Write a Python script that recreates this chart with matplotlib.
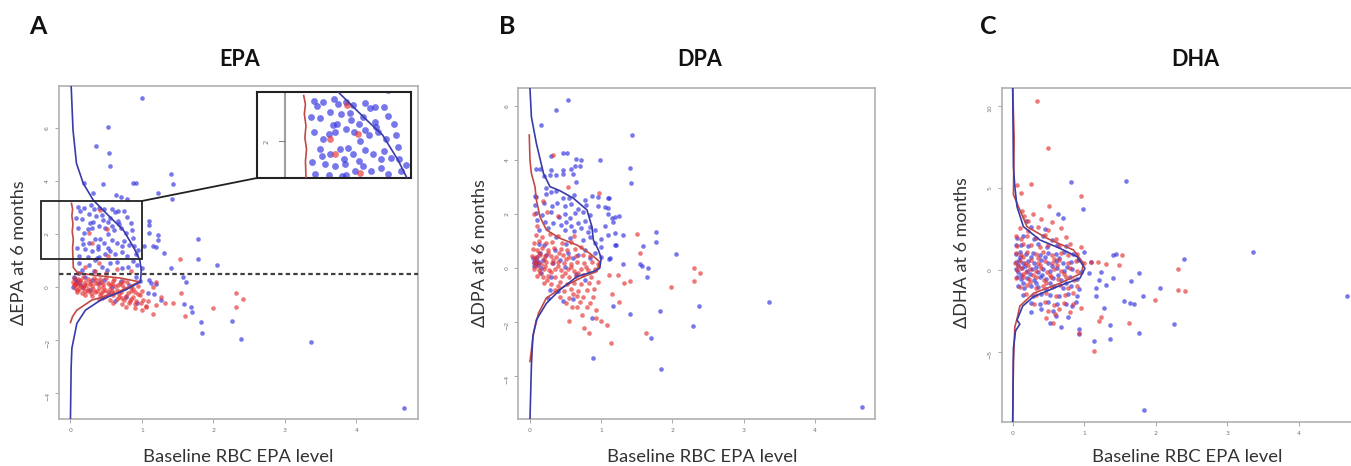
import matplotlib
matplotlib.use("Agg")
import matplotlib.pyplot as plt
from matplotlib.patches import Rectangle, ConnectionPatch

# ---------------- data ----------------
# scatter points: (baseline RBC EPA level, change at 6 months)
epa_blue = [
    (1.0, 7.15), (0.53, 6.06), (0.36, 5.33), (0.54, 5.06), (0.55, 4.59), (1.4, 4.28), (1.43, 3.9),
    (0.88, 3.94), (0.92, 3.94), (0.46, 3.9), (0.19, 3.94), (0.31, 3.57), (1.42, 3.33), (1.22, 3.55),
    (0.64, 3.48), (0.71, 3.42), (0.79, 3.32), (1.1, 2.51), (1.1, 2.36), (1.22, 1.97), (1.22, 1.79),
    (1.15, 1.56), (1.78, 1.81), (1.31, 1.31), (1.78, 1.07), (1.4, 0.74), (2.05, 0.84), (1.03, 1.56),
    (1.1, 2.06), (1.19, 1.53), (1.57, 0.4), (1.62, 0.21), (1.1, 0.27), (1.13, 0.16), (1.59, -0.63),
    (1.68, -0.73), (1.7, -0.92), (1.82, -1.3), (1.84, -1.74), (2.26, -1.27), (2.38, -1.96),
    (3.36, -2.08), (4.67, -4.54), (1.27, -0.46),
    (0.11, 3.04), (0.19, 3.0), (0.29, 3.09), (0.4, 3.0), (0.47, 2.94), (0.58, 2.97), (0.67, 2.88),
    (0.75, 2.88), (0.08, 2.63), (0.16, 2.59), (0.26, 2.75), (0.36, 2.69), (0.44, 2.72), (0.56, 2.63),
    (0.67, 2.5), (0.79, 2.66), (0.84, 2.44), (0.11, 2.25), (0.28, 2.42), (0.3, 2.25), (0.4, 2.31),
    (0.48, 2.25), (0.53, 2.0), (0.61, 2.16), (0.68, 2.38), (0.77, 2.06), (0.86, 2.16), (0.19, 2.06),
    (0.16, 1.81), (0.26, 1.68), (0.35, 1.81), (0.42, 1.83), (0.47, 1.68), (0.58, 1.78), (0.65, 1.68),
    (0.75, 1.75), (0.82, 1.58), (0.89, 1.56), (0.09, 1.49), (0.21, 1.43), (0.3, 1.37), (0.39, 1.43),
    (0.49, 1.25), (0.56, 1.37), (0.63, 1.25), (0.72, 1.33), (0.79, 1.18), (0.91, 1.25), (0.12, 1.18),
    (0.25, 1.15), (0.37, 1.12), (0.33, 2.95), (0.52, 2.45), (0.62, 2.85), (0.45, 2.55), (0.25, 2.2),
    (0.7, 2.25), (0.58, 2.3), (0.88, 1.85), (0.95, 1.4), (0.14, 2.9), (0.38, 1.55), (0.72, 1.55),
    (0.18, 1.62), (0.52, 1.5), (0.32, 2.45),
    (0.12, 0.93), (0.26, 0.84), (0.35, 1.03), (0.44, 0.78), (0.56, 0.9), (0.72, 0.72), (0.8, 0.75),
    (0.93, 0.84), (1.0, 0.72), (0.16, 0.65), (0.33, 0.63), (0.51, 0.65), (0.4, 1.15), (0.65, 0.95),
    (0.88, 1.0),
    (0.05, 0.4), (0.09, 0.23), (0.21, 0.4), (0.3, 0.27), (0.4, 0.15), (0.47, 0.27), (0.58, 0.02),
    (0.7, 0.23), (0.82, 0.1), (0.91, 0.4), (0.97, 0.23), (1.2, 0.12), (0.44, -0.42), (0.77, -0.36),
    (0.93, -0.6), (0.04, 0.0), (0.12, 0.53), (0.08, 0.15), (0.18, 0.02), (0.28, -0.1), (0.54, -0.24),
    (1.08, -0.2), (1.17, -0.27), (0.63, -0.5), (0.06, 0.3), (0.14, 0.12),
]
epa_red = [
    (1.53, 1.06), (1.16, 0.02), (1.2, 0.2), (1.55, -0.22), (1.26, -0.36), (1.43, -0.6), (1.32, -0.6),
    (1.2, -0.67), (1.15, -1.0), (1.99, -0.79), (2.31, -0.23), (2.41, -0.45), (2.31, -0.73),
    (1.6, -1.1), (1.0, -0.85), (1.08, -0.5), (1.05, -0.75),
    (0.26, 2.06), (0.51, 2.19), (0.41, 2.92), (0.3, 1.68), (0.53, 1.2),
    (0.1, 0.55), (0.2, 0.75), (0.35, 0.6), (0.5, 0.55), (0.65, 0.7), (0.4, 0.9), (0.85, 0.6),
    (0.05, 0.36), (0.11, 0.32), (0.17, 0.38), (0.24, 0.31), (0.33, 0.37), (0.41, 0.33), (0.5, 0.36),
    (0.61, 0.3), (0.04, 0.21), (0.08, 0.17), (0.13, 0.24), (0.2, 0.19), (0.27, 0.22), (0.35, 0.16),
    (0.43, 0.2), (0.52, 0.18), (0.6, 0.23), (0.69, 0.15), (0.79, 0.2), (0.05, 0.07), (0.1, 0.1),
    (0.15, 0.04), (0.22, 0.09), (0.3, 0.06), (0.38, 0.11), (0.46, 0.03), (0.55, 0.09), (0.63, 0.05),
    (0.72, 0.08), (0.84, 0.02), (0.94, 0.06), (0.06, -0.04), (0.12, -0.07), (0.18, -0.02),
    (0.25, -0.08), (0.32, -0.05), (0.4, -0.03), (0.48, -0.09), (0.56, -0.06), (0.65, -0.1),
    (0.75, -0.04), (0.88, -0.08), (0.09, -0.17), (0.16, -0.2), (0.24, -0.15), (0.34, -0.19),
    (0.43, -0.21), (0.52, -0.16), (0.6, -0.2), (0.7, -0.17), (0.8, -0.22), (0.9, -0.18), (1.0, -0.15),
    (0.2, -0.3), (0.3, -0.33), (0.42, -0.28), (0.5, -0.34), (0.6, -0.3), (0.68, -0.36), (0.78, -0.31),
    (0.88, -0.35), (0.97, -0.3), (0.4, -0.45), (0.55, -0.47), (0.65, -0.43), (0.75, -0.48),
    (0.85, -0.44), (0.92, -0.5), (1.02, -0.46), (0.6, -0.6), (0.72, -0.62), (0.82, -0.58),
    (0.9, -0.64), (0.98, -0.6), (0.78, -0.74), (0.9, -0.77), (1.05, -0.72),
    (0.07, 0.13), (0.14, 0.28), (0.19, 0.1), (0.28, 0.14), (0.36, 0.27), (0.45, 0.12), (0.58, 0.14),
    (0.66, 0.1), (0.74, 0.24), (0.09, -0.1), (0.21, -0.12), (0.29, -0.22), (0.37, -0.12),
    (0.46, -0.15), (0.58, -0.12), (0.68, -0.26), (0.84, -0.12), (0.94, -0.24), (0.47, -0.38),
    (0.72, -0.4), (0.83, -0.5),
]
dpa_blue = [
    (0.54, 6.23), (0.36, 5.86), (0.16, 5.3), (1.43, 4.93), (0.47, 4.25), (0.52, 4.25), (0.99, 4.0),
    (1.4, 3.7), (1.42, 3.17), (0.64, 4.03), (0.71, 4.0), (0.3, 4.14), (0.28, 3.44), (0.36, 3.44),
    (0.47, 3.5), (0.6, 3.5), (0.64, 3.2), (0.09, 2.65), (0.23, 2.96), (0.37, 2.85), (1.1, 2.59),
    (0.95, 2.65), (1.05, 2.28), (1.1, 2.22), (1.2, 1.91), (1.15, 1.85), (1.05, 1.56), (1.2, 1.3),
    (1.1, 1.23), (1.2, 0.86), (1.0, 1.1), (1.0, 0.77), (1.11, 0.33), (1.77, 1.36), (1.77, 0.99),
    (1.59, 0.83), (2.05, 0.52), (1.3, 0.14), (1.55, 0.14), (1.58, 0.1), (1.66, 0.0), (1.64, -0.33),
    (1.16, -1.39), (1.4, -1.68), (1.83, -1.6), (2.38, -1.39), (2.29, -2.12), (1.7, -2.57),
    (0.88, -3.33), (1.84, -3.74), (3.36, -1.26), (4.67, -5.14),
    (0.09, 3.69), (0.14, 3.69), (0.63, 3.8), (0.7, 3.8), (0.3, 3.63), (0.46, 3.63), (0.58, 3.69),
    (0.2, 3.4), (0.07, 2.66), (0.23, 2.75), (0.3, 2.82), (0.46, 2.6), (0.55, 2.6), (0.62, 2.7),
    (0.77, 2.53), (0.87, 2.66), (1.11, 2.6), (0.07, 2.35), (0.2, 2.42), (0.31, 2.29), (0.38, 2.42),
    (0.49, 2.32), (0.58, 2.38), (0.67, 2.2), (0.79, 2.35), (0.96, 2.29), (0.08, 2.04), (0.17, 1.97),
    (0.3, 2.07), (0.41, 1.91), (0.49, 2.0), (0.56, 1.85), (0.63, 2.04), (0.75, 2.1), (0.85, 1.97),
    (0.1, 1.79), (0.21, 1.73), (0.33, 1.66), (0.44, 1.6), (0.5, 1.73), (0.58, 1.57), (0.67, 1.66),
    (0.77, 1.76), (0.85, 1.54), (0.12, 1.42), (0.26, 1.48), (0.49, 1.42), (0.62, 1.38), (0.71, 1.48),
    (0.81, 1.36), (0.91, 1.42), (1.16, 1.72), (1.25, 1.95), (1.3, 1.24), (1.1, 2.0), (0.37, 1.17),
    (0.56, 1.11), (0.75, 1.05), (0.85, 1.14), (0.92, 0.92),
    (0.04, 0.37), (0.11, 0.12), (0.18, 0.31), (0.23, 0.49), (0.35, 0.68), (0.42, 0.31), (0.49, 0.06),
    (0.61, 0.37), (0.68, 0.49), (0.77, 0.68), (0.85, 0.37), (0.92, 0.55), (1.0, 0.43), (1.12, 0.37),
    (1.21, 0.86), (0.4, -0.86), (0.46, -1.21), (0.6, -1.14), (0.28, -0.8), (0.26, -1.11),
    (0.87, -1.85), (0.16, -0.19), (0.3, -0.31), (0.77, -0.43), (0.14, 0.55), (0.09, 0.18),
    (0.16, 0.0), (0.54, 0.55), (0.33, 0.18), (0.06, 0.25), (0.1, 0.4), (0.2, 0.85), (0.5, 0.9),
    (0.65, -0.2), (0.12, 0.9), (0.05, 0.1), (0.08, 0.3), (0.13, 0.22),
]
dpa_red = [
    (1.5, 1.25), (1.54, 0.55), (2.31, 0.0), (2.39, -0.19), (2.31, -0.46), (1.98, -0.7), (1.4, -0.46),
    (1.23, -0.25), (1.11, -0.25), (1.32, -0.55), (1.15, -0.95), (1.25, -1.26), (1.08, -2.1),
    (1.14, -2.78), (1.63, -2.4), (0.83, -2.4), (0.76, -2.2), (0.55, -1.97), (0.93, -1.85),
    (1.0, -1.97), (0.93, -1.53), (0.73, -1.73), (0.59, -1.42), (0.66, -1.42), (0.8, -1.42),
    (0.33, 4.2), (0.53, 3.0), (0.97, 2.78), (0.24, 2.1), (0.18, 2.5), (0.05, 2.0), (0.4, 1.95),
    (0.62, 1.2), (0.1, 1.55),
    (0.08, 1.22), (0.17, 1.15), (0.28, 1.25), (0.4, 1.18), (0.05, 0.95), (0.13, 1.0), (0.22, 0.92),
    (0.31, 0.98), (0.45, 0.93), (0.58, 0.97), (0.04, 0.72), (0.1, 0.66), (0.17, 0.74), (0.25, 0.68),
    (0.34, 0.75), (0.43, 0.7), (0.52, 0.66), (0.63, 0.72), (0.72, 0.78), (0.03, 0.46), (0.08, 0.42),
    (0.14, 0.5), (0.21, 0.44), (0.29, 0.47), (0.37, 0.41), (0.46, 0.48), (0.55, 0.43), (0.64, 0.45),
    (0.74, 0.5), (0.84, 0.44), (0.05, 0.2), (0.1, 0.25), (0.16, 0.17), (0.23, 0.22), (0.31, 0.18),
    (0.39, 0.24), (0.48, 0.2), (0.57, 0.16), (0.66, 0.23), (0.76, 0.19), (0.87, 0.22), (0.95, 0.15),
    (0.06, -0.03), (0.12, -0.08), (0.19, -0.02), (0.27, -0.06), (0.35, -0.01), (0.44, -0.07),
    (0.53, -0.04), (0.62, -0.09), (0.71, -0.03), (0.82, -0.06), (0.92, -0.02), (0.1, -0.28),
    (0.18, -0.33), (0.26, -0.27), (0.35, -0.32), (0.45, -0.29), (0.55, -0.34), (0.65, -0.3),
    (0.75, -0.26), (0.86, -0.32), (0.2, -0.55), (0.3, -0.58), (0.42, -0.52), (0.52, -0.57),
    (0.62, -0.53), (0.72, -0.6), (0.83, -0.55), (0.95, -0.5), (0.35, -0.8), (0.48, -0.84),
    (0.58, -0.78), (0.68, -0.85), (0.8, -0.8), (0.9, -0.76), (0.42, -1.05), (0.55, -1.1),
    (0.66, -1.02), (0.75, -1.08), (0.88, -1.05), (0.5, -1.28), (0.7, -1.24), (0.85, -1.3),
    (0.07, 0.34), (0.12, 0.58), (0.19, 0.33), (0.26, 0.57), (0.33, 0.3), (0.41, 0.58), (0.5, 0.33),
    (0.08, 0.08), (0.14, -0.18), (0.21, 0.1), (0.3, -0.15), (0.4, 0.08), (0.49, -0.18),
    (0.58, 0.05), (0.68, -0.17), (0.79, 0.06), (0.24, -0.42), (0.4, -0.66), (0.6, -0.95),
]
dha_blue = [
    (0.82, 5.34), (1.58, 5.42), (0.99, 3.7), (0.63, 3.43), (0.7, 3.17), (3.36, 1.08), (2.39, 0.67),
    (4.67, -1.58), (1.84, -8.53), (1.76, -0.19), (1.4, 0.94), (2.06, -1.1), (1.82, -1.6),
    (1.55, -1.9), (1.64, -2.0), (1.69, -2.1), (1.4, -0.5), (1.65, -0.65), (1.27, -2.3), (1.36, -3.35),
    (1.36, -4.18), (1.13, -4.33), (1.76, -3.85), (2.26, -3.3), (0.93, -3.6), (0.93, -3.9),
    (1.16, -1.1), (1.17, -1.6), (1.07, -0.2), (1.2, -0.6), (1.1, 0.5), (0.18, 3.0), (0.25, 2.6),
    (0.45, 2.5), (0.52, -3.2), (0.4, -2.4), (0.6, -2.8), (0.83, -2.2), (1.0, 1.12), (1.44, 1.0),
    (1.23, -0.1), (1.3, -0.9), (0.26, -2.54), (0.56, -2.5), (0.77, -2.84), (0.68, -3.45),
    (0.06, 1.95), (0.15, 2.1), (0.3, 1.9), (0.42, 2.05), (0.55, 1.85), (0.05, 1.5), (0.12, 1.55),
    (0.22, 1.45), (0.35, 1.6), (0.48, 1.4), (0.62, 1.5), (0.75, 1.45), (0.04, 1.0), (0.1, 1.1),
    (0.18, 0.95), (0.28, 1.05), (0.38, 0.9), (0.5, 1.05), (0.6, 0.95), (0.72, 1.1), (0.85, 0.95),
    (0.05, 0.5), (0.09, 0.6), (0.15, 0.45), (0.22, 0.55), (0.3, 0.4), (0.4, 0.6), (0.5, 0.45),
    (0.6, 0.55), (0.7, 0.4), (0.82, 0.5), (0.92, 0.6), (0.04, 0.05), (0.08, -0.1), (0.13, 0.1),
    (0.2, -0.05), (0.27, 0.08), (0.35, -0.1), (0.43, 0.05), (0.52, -0.08), (0.62, 0.1), (0.72, -0.05),
    (0.83, 0.05), (0.95, -0.1), (0.06, -0.45), (0.12, -0.55), (0.2, -0.5), (0.3, -0.6), (0.38, -0.42),
    (0.47, -0.55), (0.57, -0.48), (0.68, -0.6), (0.8, -0.45), (0.9, -0.55), (0.08, -1.0),
    (0.16, -1.1), (0.26, -0.95), (0.36, -1.05), (0.46, -1.15), (0.58, -0.95), (0.7, -1.1),
    (0.82, -1.0), (0.93, -1.15), (0.15, -1.5), (0.28, -1.6), (0.4, -1.45), (0.52, -1.55),
    (0.65, -1.6), (0.78, -1.45), (0.9, -1.6), (0.25, -2.0), (0.38, -2.1), (0.5, -1.95), (0.62, -2.05),
    (0.75, -2.1), (0.88, -1.95),
    (0.07, 0.3), (0.11, -0.3), (0.17, 0.25), (0.24, -0.25), (0.33, 0.2), (0.41, -0.3), (0.55, 0.25),
    (0.64, -0.3), (0.76, 0.2), (0.1, 0.8), (0.25, 0.8), (0.45, 0.8), (0.65, 0.75), (0.14, -0.8),
    (0.32, -0.8), (0.52, -0.8), (0.75, -0.8),
]
dha_red = [
    (0.34, 10.31), (0.5, 7.41), (0.06, 5.2), (0.26, 5.26), (0.12, 4.7), (0.95, 4.5), (0.51, 3.9),
    (0.13, 3.6), (0.16, 3.3), (0.28, 3.4), (1.53, 0.9), (1.49, 0.3), (1.3, 0.35), (2.31, 0.06),
    (2.31, -1.22), (2.41, -1.3), (1.99, -1.84), (1.63, -3.2), (1.2, -3.1), (1.14, -4.93),
    (0.93, -3.85), (0.46, -2.9), (0.59, -2.7), (0.4, 3.1), (0.22, 3.0), (0.55, 2.9), (0.68, 2.54),
    (1.1, 0.5), (1.19, 0.5), (1.23, -2.84), (0.56, -3.2),
    (0.1, 2.55), (0.22, 2.4), (0.35, 2.6), (0.5, 2.45), (0.04, 2.05), (0.12, 1.9), (0.2, 2.1),
    (0.33, 1.95), (0.45, 2.15), (0.6, 1.9), (0.75, 2.0), (0.06, 1.45), (0.14, 1.6), (0.25, 1.5),
    (0.38, 1.4), (0.5, 1.55), (0.65, 1.45), (0.8, 1.6), (0.95, 1.4), (0.05, 1.05), (0.12, 0.9),
    (0.2, 1.1), (0.32, 0.95), (0.42, 1.1), (0.55, 0.9), (0.67, 1.05), (0.78, 0.9), (0.9, 1.0),
    (0.03, 0.45), (0.1, 0.55), (0.17, 0.4), (0.25, 0.6), (0.35, 0.45), (0.45, 0.55), (0.55, 0.4),
    (0.65, 0.6), (0.77, 0.45), (0.88, 0.55), (1.0, 0.4), (0.06, 0.0), (0.11, 0.15), (0.18, -0.1),
    (0.24, 0.05), (0.32, -0.05), (0.4, 0.12), (0.48, -0.1), (0.58, 0.05), (0.68, -0.08), (0.8, 0.1),
    (0.9, -0.05), (0.05, -0.5), (0.14, -0.4), (0.23, -0.55), (0.33, -0.45), (0.44, -0.6),
    (0.54, -0.45), (0.64, -0.55), (0.75, -0.4), (0.86, -0.6), (0.1, -1.05), (0.2, -0.9),
    (0.32, -1.1), (0.43, -0.95), (0.55, -1.05), (0.66, -0.9), (0.78, -1.1), (0.9, -0.95),
    (0.18, -1.45), (0.33, -1.55), (0.47, -1.4), (0.6, -1.6), (0.73, -1.5), (0.85, -1.4),
    (0.3, -2.05), (0.45, -1.95), (0.58, -2.15), (0.72, -2.0), (0.85, -2.1), (0.95, -2.3),
    (0.5, -2.5), (0.65, -2.4), (0.8, -2.55),
    (0.08, 0.25), (0.15, -0.25), (0.21, 0.3), (0.29, -0.3), (0.38, 0.3), (0.52, -0.3), (0.62, 0.3),
    (0.72, -0.25), (0.15, 0.8), (0.35, 0.75), (0.58, 0.7), (0.24, -0.75), (0.46, -0.8),
]

# density curves drawn along the y axis: (scaled density, y)
epa_blue_dens = [(0.01, 7.6), (0.036, 5.94), (0.084, 4.68), (0.18, 3.92), (0.32, 3.29), (0.55, 2.66),
                 (0.74, 2.16), (0.88, 1.53), (0.97, 1.03), (0.99, 0.65), (0.98, 0.21), (0.77, -0.1),
                 (0.44, -0.45), (0.21, -0.86), (0.09, -1.36), (0.02, -2.3), (0.01, -3.0), (0.0, -4.97)]
epa_red_dens = [(0.014, 3.17), (0.03, 2.95), (0.02, 2.7), (0.035, 2.4), (0.025, 2.1), (0.04, 1.8),
                (0.03, 1.5), (0.035, 1.1), (0.04, 0.75), (0.1, 0.55), (0.35, 0.45), (0.7, 0.35),
                (0.96, 0.21), (0.63, -0.23), (0.3, -0.48), (0.09, -0.86), (0.03, -1.1), (0.0, -1.33)]
dpa_blue_dens = [(0.0, 6.66), (0.02, 5.6), (0.09, 4.62), (0.19, 3.51), (0.28, 3.02), (0.42, 2.87),
                 (0.61, 2.59), (0.8, 2.16), (0.87, 1.54), (0.89, 1.05), (0.96, 0.68), (1.0, 0.37),
                 (0.98, 0.0), (0.89, -0.12), (0.66, -0.31), (0.42, -0.8), (0.23, -1.3), (0.09, -1.91),
                 (0.04, -2.53), (0.02, -3.6), (0.0, -5.59)]
dpa_red_dens = [(-0.01, 4.93), (0.0, 4.0), (0.02, 3.51), (0.07, 3.02), (0.09, 2.53), (0.14, 1.91),
                (0.23, 1.42), (0.42, 1.11), (0.66, 0.86), (0.84, 0.55), (0.98, 0.24), (0.94, -0.12),
                (0.75, -0.31), (0.47, -0.68), (0.23, -1.1), (0.12, -1.66), (0.05, -2.4), (0.0, -3.45)]
dha_blue_dens = [(0.0, 11.07), (0.01, 6.3), (0.03, 5.07), (0.06, 3.86), (0.15, 2.64), (0.38, 1.83),
                 (0.66, 1.32), (0.9, 0.81), (1.01, 0.1), (0.94, -0.5), (0.62, -1.02), (0.29, -1.63),
                 (0.14, -2.2), (0.06, -3.05), (0.1, -3.3), (0.04, -3.7), (0.01, -4.76), (0.0, -9.28)]
dha_red_dens = [(0.0, 11.07), (0.02, 8.0), (0.01, 4.6), (0.08, 3.86), (0.2, 2.64), (0.48, 1.93),
                (0.85, 1.22), (0.99, 0.41), (0.96, -0.2), (0.66, -0.81), (0.29, -1.42), (0.1, -2.2),
                (0.06, -3.0), (0.03, -3.45), (0.01, -5.6), (0.0, -9.28)]

epa_threshold = 0.5
x_ticks = [0, 1, 2, 3, 4]
epa_yticks = [-4, -2, 0, 2, 4, 6]
dpa_yticks = [-4, -2, 0, 2, 4, 6]
dha_yticks = [-5, 0, 5, 10]

BLUE = "#2f2fe0"
RED = "#e53030"
BLUE_LINE = "#3a3aa8"
RED_LINE = "#c24a44"
FONT = ["Lato", "DejaVu Sans"]


def draw_panel(ax, blue, red, blue_dens, red_dens, xlim, ylim, xticks, yticks, size=11):
    bx, by = zip(*blue)
    rx, ry = zip(*red)
    ax.scatter(bx, by, s=size, color=BLUE, alpha=0.65, linewidths=0, zorder=2)
    ax.scatter(rx, ry, s=size, color=RED, alpha=0.65, linewidths=0, zorder=2)
    dx, dy = zip(*red_dens)
    ax.plot(dx, dy, color=RED_LINE, lw=1.2, zorder=3)
    dx, dy = zip(*blue_dens)
    ax.plot(dx, dy, color=BLUE_LINE, lw=1.2, zorder=3)
    ax.set_xticks(xticks)
    ax.set_yticks(yticks)
    ax.set_xlim(*xlim)
    ax.set_ylim(*ylim)
    ax.tick_params(labelsize=4.5, colors="#999999", labelcolor="#777777", length=3, width=0.6)
    ax.tick_params(axis="y", labelrotation=90)
    for sp in ax.spines.values():
        sp.set_color("#b0b0b0")
        sp.set_linewidth(1.2)


fig = plt.figure(figsize=(13.51, 4.66), dpi=100)
W, H = 1351, 466

axA = fig.add_axes([59 / W, 1 - 419 / H, 359 / W, 333 / H])
axB = fig.add_axes([518.3 / W, 1 - 419.3 / H, 357 / W, 331 / H])
axC = fig.add_axes([1001.7 / W, 1 - 422.3 / H, 358.5 / W, 334 / H])

draw_panel(axA, epa_blue, epa_red, epa_blue_dens, epa_red_dens, (-0.16, 4.86), (-4.97, 7.6),
           x_ticks, epa_yticks)
draw_panel(axB, dpa_blue, dpa_red, dpa_blue_dens, dpa_red_dens, (-0.164, 4.85), (-5.59, 6.66),
           x_ticks, dpa_yticks)
draw_panel(axC, dha_blue, dha_red, dha_blue_dens, dha_red_dens, (-0.154, 4.86), (-9.28, 11.07),
           x_ticks, dha_yticks)

axA.axhline(epa_threshold, color="#404040", lw=1.6, ls=(0, (2, 1.4)), zorder=4)

# zoom box and magnified inset in panel A
box_x, box_y = (-0.415, 1.0), (1.07, 3.26)
axA.add_patch(Rectangle((box_x[0], box_y[0]), box_x[1] - box_x[0], box_y[1] - box_y[0],
                        fill=False, ec="#222222", lw=1.3, clip_on=False, zorder=5))
axIn = fig.add_axes([257 / W, 1 - 178 / H, 154 / W, 86 / H])
draw_panel(axIn, epa_blue, epa_red, epa_blue_dens, epa_red_dens, box_x, box_y, [], [], size=24)
for sp in axIn.spines.values():
    sp.set_color("#222222")
    sp.set_linewidth(1.5)
left = axA.get_xlim()[0]
axIn.axvline(left, color="#a0a0a0", lw=1.5, zorder=1)
axIn.plot([left - 0.055, left], [2, 2], color="#888888", lw=0.8)
axIn.text(left - 0.17, 2, "2", rotation=90, fontsize=5, color="#777777", ha="center", va="center")
con = ConnectionPatch(xyA=(box_x[1], box_y[1]), coordsA=axA.transData,
                      xyB=(0, 0), coordsB=axIn.transAxes, color="#222222", lw=1.3)
fig.add_artist(con)

# texts
for x, s in [(38, "A"), (507, "B"), (988, "C")]:
    fig.text(x / W, 1 - 27 / H, s, fontsize=18, fontweight="bold", family=FONT,
             ha="center", va="center", color="#111111")
for x, s in [(240, "EPA"), (700, "DPA"), (1195, "DHA")]:
    fig.text(x / W, 1 - 59 / H, s, fontsize=15.5, fontweight="bold", family=FONT,
             ha="center", va="center", color="#111111")
for x, s in [(19, "ΔEPA at 6 months"), (480, "ΔDPA at 6 months"), (962, "ΔDHA at 6 months")]:
    fig.text(x / W, 1 - 253 / H, s, fontsize=13, family=FONT, rotation=90,
             ha="center", va="center", color="#333333")
for x in [238, 702, 1187]:
    fig.text(x / W, 1 - 457 / H, "Baseline RBC EPA level", fontsize=13.3, family=FONT,
             ha="center", va="center", color="#333333")

fig.savefig("out.png", dpi=100)
